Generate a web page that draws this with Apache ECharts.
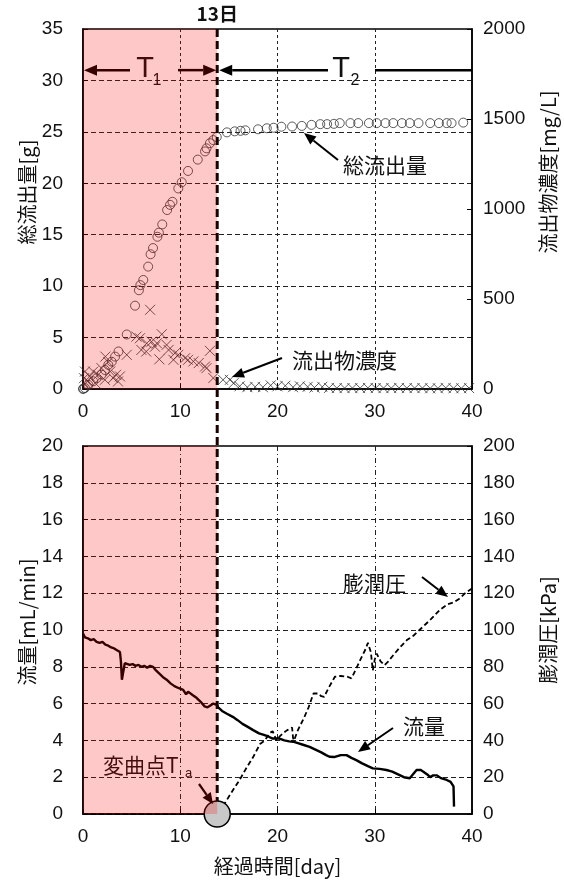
<!DOCTYPE html>
<html>
<head>
<meta charset="utf-8">
<script src="https://cdn.jsdelivr.net/npm/echarts@6/dist/echarts.min.js"></script>
<style>
html,body{margin:0;padding:0;background:#fff;}
#c{width:564px;height:883px;}
</style>
</head>
<body>
<div id="c"></div>
<script>
// 経過日数の目盛
const dayTicks = [0, 10, 20, 30, 40];
// 変曲点 (日)
const turnDay = 13.8;

// 総流出量 [g]  (day, g)
const cumulative = [
  [0,0],[0.05,0.05],[0.2,0.1],[0.55,0.4],[1.05,0.75],[1.4,1.05],[1.9,1.4],[2.25,1.85],[2.6,2.35],
  [2.95,2.65],[3.3,3.15],[3.65,3.65],[4.5,5.3],[5.35,8.1],[5.75,9.6],[5.9,10.1],[6.2,10.6],
  [6.7,11.9],[6.95,13.1],[7.2,13.7],[7.65,14.8],[7.8,15.2],[8.15,16.0],[8.65,17.4],[8.95,17.9],
  [9.2,18.2],[9.8,19.5],[10.15,20.1],[10.8,21.2],[11.8,22.3],[12.55,23.1],[12.7,23.4],
  [13.05,23.9],[13.4,24.2],[13.75,24.5],
  [14.8,24.95],[15.6,25.05],[16.2,25.1],[16.7,25.15],[18.0,25.25],[18.9,25.35],[19.6,25.4],
  [20.4,25.5],[21.5,25.52],[22.5,25.58],[23.5,25.68],[24.4,25.75],[25.1,25.75],[25.8,25.78],
  [26.4,25.85],[27.5,25.85],[28.3,25.85],[29.4,25.85],[30.2,25.85],[31.1,25.85],[31.9,25.85],
  [32.8,25.85],[33.6,25.85],[34.5,25.85],[35.7,25.85],[36.6,25.85],[37.4,25.85],[37.9,25.85],
  [39.1,25.9]
];

// 流出物濃度 [mg/L]  (day, mg/L)
const concentration = [
  [0.1,60],[0.2,97],[0.5,45],[0.7,70],[1.05,97],[1.25,33],[1.55,79],[1.9,116],[2.25,51],
  [2.3,180],[2.6,150],[2.8,97],[3.1,61],[3.4,79],[3.6,42],[3.8,70],[4.5,190],[5.5,291],
  [5.85,282],[6.0,217],[6.5,208],[6.55,254],[6.9,440],[7.05,263],[7.4,235],[7.6,254],
  [7.85,165],[8.1,304],[8.6,245],[8.8,217],[9.3,162],[9.45,199],[9.8,190],[10.5,171],
  [10.8,162],[11.35,153],[11.9,144],[12.55,125],[12.7,116],[13.05,212],[13.4,61],
  [14.4,51],[15.1,51],[15.5,33],[16.1,15],[16.9,10],[17.7,12],[18.5,10],[19.3,20],[20.0,15],
  [20.8,18],[21.6,10],[22.3,15],[23.1,12],[23.8,8],[24.6,12],[25.3,6],[26.1,5],[26.9,5],
  [27.7,5],[28.5,5],[29.3,6],[30.1,5],[30.9,5],[31.7,5],[32.5,6],[33.3,5],[34.1,5],[34.9,5],
  [35.7,4],[36.5,4],[37.3,6],[38.1,4],[38.9,4],[39.7,5]
];

// 流量 [mL/min]  (day, mL/min)
const flowRate = [
  [0,9.8],[0.2,9.6],[0.5,9.55],[0.8,9.45],[1.1,9.5],[1.4,9.35],[1.7,9.3],[2.0,9.35],[2.3,9.2],
  [2.6,9.15],[2.9,9.05],[3.2,9.0],[3.5,8.9],[3.8,8.8],[3.9,8.3],[4.0,7.3],[4.1,7.6],[4.3,8.2],
  [4.5,8.3],[4.8,8.1],[5.1,8.15],[5.4,8.05],[5.7,8.1],[6.0,8.0],[6.3,8.05],[6.6,7.95],[6.9,8.05],
  [7.2,8.0],[7.5,7.8],[7.8,7.65],[8.2,7.45],[8.6,7.3],[9.0,7.1],[9.4,6.95],[9.8,6.85],[10.3,6.75],
  [10.6,6.5],[10.8,6.65],[11.3,6.45],[11.7,6.3],[12.1,6.1],[12.5,5.85],[12.8,5.8],[13.1,5.9],
  [13.4,6.0],[13.7,5.95],[13.9,5.8],[14.3,5.6],[14.8,5.45],[15.4,5.28],[15.9,5.1],[16.4,4.9],
  [16.9,4.75],[17.5,4.56],[18.1,4.38],[18.6,4.3],[19.1,4.2],[19.5,4.1],[20.2,4.1],[20.7,4.0],
  [21.2,3.95],[21.6,3.93],[22.1,3.85],[22.7,3.75],[23.3,3.65],[23.9,3.5],[24.5,3.35],[25.0,3.2],
  [25.35,3.11],[25.9,3.1],[26.5,3.2],[27.1,3.2],[27.6,3.05],[28.1,2.93],[28.7,2.75],[29.3,2.6],
  [29.8,2.48],[30.5,2.45],[31.2,2.39],[31.8,2.3],[32.4,2.15],[33.0,2.0],[33.6,1.94],[34.0,2.2],
  [34.3,2.39],[34.7,2.4],[35.0,2.3],[35.4,2.15],[35.7,2.0],[36.0,2.1],[36.4,2.1],[36.8,1.95],
  [37.4,1.85],[37.8,1.75],[38.1,1.5],[38.15,0.4]
];

// 膨潤圧 [kPa]  (day, kPa)
const swelling = [
  [0,0],[13.8,0],[14.0,2],[14.6,6],[15.3,12],[16.1,18.5],[16.8,25],[17.5,31],[18.2,38],[18.7,40],
  [19.2,44],[19.5,45],[19.9,40],[20.2,42],[20.6,44],[21.0,45.6],[21.5,47],[21.6,41.3],[21.7,40],
  [22.1,45.6],[22.7,52],[23.2,58],[23.7,65.5],[24.2,65.5],[24.5,64],[24.8,63.7],[25.2,68],
  [25.9,74.6],[26.5,75],[27.2,74.6],[27.6,73.7],[28.0,78],[28.5,83.6],[29.0,89],[29.3,93],
  [29.6,88],[29.8,78],[30.0,84],[30.2,87.2],[30.6,83],[31.0,80.9],[31.4,83],[31.9,86.3],
  [32.5,90],[33.3,94.5],[34.0,97],[34.6,100],[35.2,103],[35.8,106],[36.7,111],[37.5,114],
  [38.1,115],[38.7,117],[39.3,120],[40,122.5]
];

const NUM_FONT = '"Liberation Sans"';
const JP_FONT = '"Noto Sans CJK JP"';
const INK = '#111';
const TICK_SIZE = 19;

function xAxisDef(gridIndex) {
  return {
    type: 'value', gridIndex: gridIndex,
    min: dayTicks[0], max: dayTicks[dayTicks.length - 1], interval: dayTicks[1] - dayTicks[0],
    axisLine: { show: true, onZero: false, lineStyle: { color: '#000', width: 1.5 } },
    axisTick: { show: true, inside: true, length: 5, lineStyle: { color: '#000', width: 1 } },
    axisLabel: { margin: 13, fontSize: TICK_SIZE, color: INK, fontFamily: NUM_FONT, formatter: v => String(v) },
    splitLine: {
      show: true, showMinLine: false, showMaxLine: false,
      lineStyle: { color: '#222', width: 1, type: gridIndex === 0 ? [3, 3] : [5, 3, 1, 3] }
    }
  };
}

function yAxisDef(gridIndex, pos, max, interval, split, margin) {
  return {
    type: 'value', gridIndex: gridIndex, position: pos,
    min: 0, max: max, interval: interval,
    axisLine: { show: true, onZero: false, lineStyle: { color: '#000', width: 1.5 } },
    axisTick: { show: true, inside: true, length: 5, lineStyle: { color: '#000', width: 1 } },
    axisLabel: { margin: margin, fontSize: TICK_SIZE, color: INK, fontFamily: NUM_FONT, formatter: v => String(v) },
    splitLine: {
      show: split, showMinLine: false, showMaxLine: false,
      lineStyle: { color: '#222', width: 1, type: [5, 3] }
    }
  };
}

const chart = echarts.init(document.getElementById('c'), null, { renderer: 'canvas' });

chart.setOption({
  animation: false,
  backgroundColor: '#fff',
  grid: [
    { left: 83, top: 29, width: 389, height: 360, show: true, borderColor: '#000', borderWidth: 1.5, backgroundColor: 'transparent' },
    { left: 83, top: 446, width: 389, height: 368, show: true, borderColor: '#000', borderWidth: 1.5, backgroundColor: 'transparent' }
  ],
  xAxis: [xAxisDef(0), xAxisDef(1)],
  yAxis: [
    yAxisDef(0, 'left', 35, 5, true, 20),
    yAxisDef(0, 'right', 2000, 500, false, 11),
    yAxisDef(1, 'left', 20, 2, true, 20),
    yAxisDef(1, 'right', 200, 20, false, 11)
  ],
  series: [
    {
      name: '総流出量', type: 'scatter', xAxisIndex: 0, yAxisIndex: 0,
      data: cumulative, symbol: 'circle', symbolSize: 9,
      itemStyle: { color: 'rgba(255,255,255,0)', borderColor: '#333', borderWidth: 1 },
      emphasis: { disabled: true }
    },
    {
      name: '流出物濃度', type: 'scatter', xAxisIndex: 0, yAxisIndex: 1,
      data: concentration, symbol: 'path://M0,0L10,10M10,0L0,10', symbolSize: 10,
      itemStyle: { color: 'rgba(0,0,0,0)', borderColor: '#333', borderWidth: 1 },
      emphasis: { disabled: true }
    },
    {
      name: '流量', type: 'line', xAxisIndex: 1, yAxisIndex: 2,
      data: flowRate, showSymbol: false, smooth: false,
      lineStyle: { color: '#000', width: 2.4 },
      emphasis: { disabled: true }
    },
    {
      name: '膨潤圧', type: 'line', xAxisIndex: 1, yAxisIndex: 3,
      data: swelling, showSymbol: false, smooth: false,
      lineStyle: { color: '#000', width: 1.8, type: [5, 3] },
      emphasis: { disabled: true }
    }
  ]
});

// ---- overlays, annotations and axis titles ----
const P = (g, x, y) => chart.convertToPixel({ gridIndex: g }, [x, y]);

function text(str, x, y, size, opts) {
  opts = opts || {};
  const align = opts.align || 'left';
  return {
    type: 'text', x: x, y: y, rotation: opts.rotation || 0, z: opts.z || 6, silent: true,
    style: {
      text: str,
      font: (opts.bold ? 'bold ' : '') + size + 'px ' + (opts.family || JP_FONT),
      fill: opts.color || INK,
      textAlign: align, align: align,
      textVerticalAlign: 'middle', verticalAlign: 'middle'
    }
  };
}

function arrow(x1, y1, x2, y2, width, head, halfW, color, z) {
  const dx = x2 - x1, dy = y2 - y1, len = Math.hypot(dx, dy);
  const ux = dx / len, uy = dy / len;
  const bx = x2 - ux * head, by = y2 - uy * head;
  return [
    { type: 'line', z: z, silent: true, shape: { x1: x1, y1: y1, x2: bx, y2: by }, style: { stroke: color, lineWidth: width } },
    { type: 'polygon', z: z, silent: true,
      shape: { points: [[x2, y2], [bx - uy * halfW, by + ux * halfW], [bx + uy * halfW, by - ux * halfW]] },
      style: { fill: color } }
  ];
}

const [xLeft, yTopA] = P(0, 0, 35);
const [xTurn, yZeroA] = P(0, turnDay, 0);
const [xRight] = P(0, 40, 0);
const yTopB = P(1, 0, 20)[1];
const yZeroB = P(1, 0, 0)[1];
const yArrowT = P(0, 0, 31)[1];

const els = [];

// 期間 T1 / T2 の矢印
els.push(...arrow(130, yArrowT, xLeft + 1, yArrowT, 2.5, 13, 5.5, '#000', 5));
els.push(...arrow(178, yArrowT, xTurn - 1, yArrowT, 2.5, 13, 5.5, '#000', 5));
els.push(...arrow(328, yArrowT, xTurn + 2, yArrowT, 2.5, 13, 5.5, '#000', 5));
els.push({ type: 'line', z: 5, silent: true, shape: { x1: 375, y1: yArrowT, x2: xRight, y2: yArrowT }, style: { stroke: '#000', lineWidth: 2.5 } });
els.push(text('T', 145, yArrowT - 1, 29, { align: 'center', family: NUM_FONT }));
els.push(text('1', 157, yArrowT + 10, 16, { align: 'center', family: NUM_FONT }));
els.push(text('T', 341, yArrowT - 1, 29, { align: 'center', family: NUM_FONT }));
els.push(text('2', 355, yArrowT + 10, 16, { align: 'center', family: NUM_FONT }));

// 系列の注記
els.push(text('総流出量', 343, 165, 21));
els.push(...arrow(338, 160, 304, 133, 2, 12, 5, '#000', 6));
els.push(text('流出物濃度', 292, 360, 21));
els.push(...arrow(282, 358, 232, 377, 2, 12, 5, '#000', 6));
els.push(text('膨潤圧', 343, 583, 21));
els.push(...arrow(422, 577, 448, 597, 2, 12, 5, '#000', 6));
els.push(text('流量', 403, 726, 21));
els.push(...arrow(393, 728, 358, 752, 2, 12, 5, '#000', 6));

// 変曲点
els.push({ type: 'circle', z: 4, silent: true, shape: { cx: xTurn, cy: yZeroB, r: 13 }, style: { fill: '#c8c8c8', stroke: '#000', lineWidth: 1.5 } });
els.push(text('変曲点T', 103, 765, 21));
els.push(text('a', 185, 773, 13, { family: NUM_FONT }));
els.push(...arrow(199, 784, 213, 804, 2.2, 11, 5, '#000', 6));

// 期間 T1 の網掛け
els.push({ type: 'rect', z: 10, silent: true, shape: { x: xLeft, y: yTopA, width: xTurn - xLeft, height: yZeroA - yTopA }, style: { fill: 'rgba(255,0,0,0.215)' } });
els.push({ type: 'rect', z: 10, silent: true, shape: { x: xLeft, y: yTopB, width: xTurn - xLeft, height: yZeroB - yTopB }, style: { fill: 'rgba(255,0,0,0.215)' } });

// 13日の区切り線
els.push({ type: 'line', z: 11, silent: true, shape: { x1: xTurn, y1: yTopA, x2: xTurn, y2: yZeroB - 13 }, style: { stroke: '#1a0000', lineWidth: 3, lineDash: [8, 4] } });
els.push(text('13日', xTurn, 14, 19, { align: 'center', bold: true, z: 11 }));

// 軸タイトル
els.push(text('総流出量[g]', 27, (yTopA + yZeroA) / 2 - 17, 20, { align: 'center', rotation: Math.PI / 2 }));
els.push(text('流出物濃度[mg/L]', 548, (yTopA + yZeroA) / 2 - 37, 20, { align: 'center', rotation: Math.PI / 2 }));
els.push(text('流量[mL/min]', 27, (yTopB + yZeroB) / 2 - 8, 20, { align: 'center', rotation: Math.PI / 2 }));
els.push(text('膨潤圧[kPa]', 548, (yTopB + yZeroB) / 2, 20, { align: 'center', rotation: Math.PI / 2 }));
els.push(text('経過時間[day]', (xLeft + xRight) / 2, 866, 20, { align: 'center' }));

chart.setOption({ graphic: { elements: els } });
</script>
</body>
</html>
